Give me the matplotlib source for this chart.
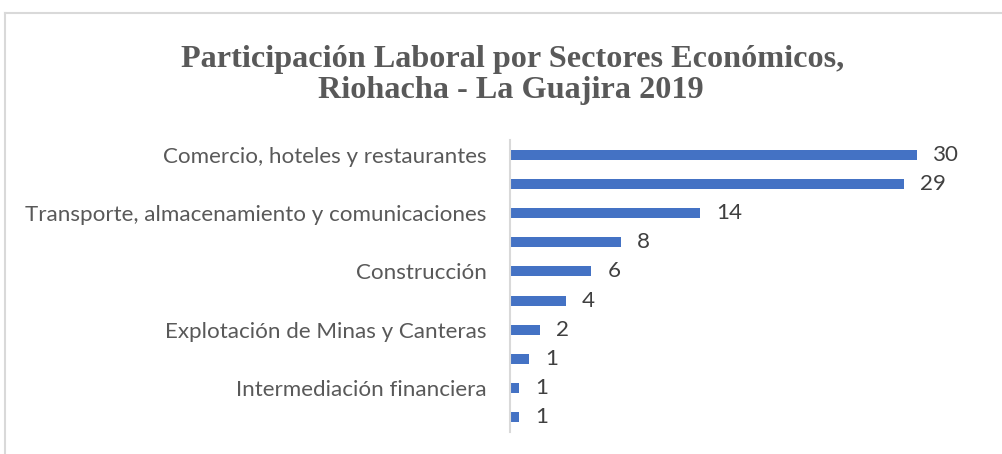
import matplotlib
matplotlib.use("Agg")
import matplotlib.pyplot as plt
from matplotlib.lines import Line2D

categories = ['Comercio, hoteles y restaurantes', '',
              'Transporte, almacenamiento y comunicaciones', '',
              'Construcción', '',
              'Explotación de Minas y Canteras', '',
              'Intermediación financiera', '']
values = [30.0, 29.0, 14.0, 8.2, 6.0, 4.1, 2.2, 1.4, 0.7, 0.7]
value_labels = ['30', '29', '14', '8', '6', '4', '2', '1', '1', '1']
title_lines = ['Participación Laboral por Sectores Económicos,',
               'Riohacha - La Guajira 2019']

W, H = 1003, 454
fig = plt.figure(figsize=(W / 100, H / 100), dpi=100)
fig.patch.set_facecolor('white')

# chart frame (light gray, running off right/bottom edges)
fig.add_artist(Line2D([5 / W, 5 / W], [0, 1 - 13 / H], transform=fig.transFigure,
                      color='#d9d9d9', lw=1.5))
fig.add_artist(Line2D([5 / W, 1.0], [1 - 13 / H, 1 - 13 / H], transform=fig.transFigure,
                      color='#d9d9d9', lw=1.5))

ax = fig.add_axes([510 / W, 1 - 432 / H, (985 - 510) / W, (432 - 140) / H])
pos = list(range(len(categories)))
ax.barh(pos, values, height=0.34, color='#4472C4')
ax.set_ylim(len(categories) - 0.5, -0.5)
ax.set_xlim(0, 35)
ax.set_yticks(pos)
ax.set_yticklabels(categories, fontfamily='Lato', fontsize=16.1, color='#595959')
ax.tick_params(axis='y', length=0, pad=17)
ax.set_xticks([])
for s in ['top', 'right', 'bottom']:
    ax.spines[s].set_visible(False)
ax.spines['left'].set_color('#d9d9d9')
ax.spines['left'].set_linewidth(1.5)

for i, (v, lab) in enumerate(zip(values, value_labels)):
    ax.annotate(lab, (v, i), xytext=(11.5, 0), textcoords='offset points',
                va='center', ha='left', fontsize=16.1, color='#404040',
                fontfamily='Lato')

fig.text(513 / W, 1 - 67 / H, title_lines[0], ha='center', va='baseline',
         fontfamily='Liberation Serif', fontweight='bold', fontsize=23.2,
         color='#595959')
fig.text(511 / W, 1 - 98 / H, title_lines[1], ha='center', va='baseline',
         fontfamily='Liberation Serif', fontweight='bold', fontsize=23.2,
         color='#595959')

fig.savefig('out.png', dpi=100, facecolor='white')
